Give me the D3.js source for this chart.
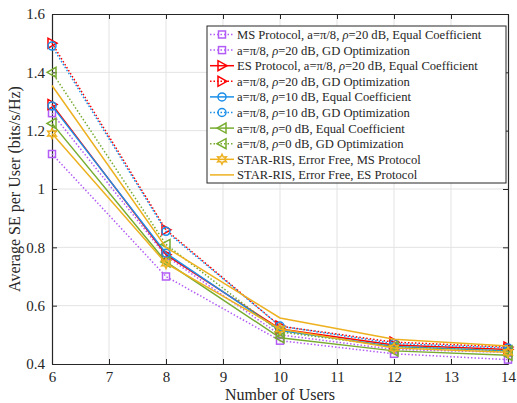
<!DOCTYPE html>
<html>
<head>
<meta charset="utf-8">
<script src="https://cdn.jsdelivr.net/npm/d3@7"></script>
<style>
  body { margin: 0; background: #fff; }
  svg { font-family: "Liberation Serif", "DejaVu Serif", serif; }
</style>
</head>
<body>
<svg id="canvas"></svg>
<script>
let users = [6, 8, 10, 12, 14];

// values
let msEqual   = [1.12, 0.70, 0.48, 0.435, 0.415];
let msGD      = [1.26, 0.77, 0.50, 0.45, 0.44];
let esEqual   = [1.29, 0.775, 0.52, 0.465, 0.45];
let esGD      = [1.50, 0.86, 0.53, 0.475, 0.458];
let r10Equal  = [1.285, 0.78, 0.515, 0.46, 0.445];
let r10GD     = [1.49, 0.855, 0.53, 0.47, 0.455];
let r0Equal   = [1.225, 0.75, 0.49, 0.445, 0.43];
let r0GD      = [1.40, 0.81, 0.51, 0.46, 0.445];
let starMS    = [1.19, 0.745, 0.52, 0.455, 0.44];
let starES    = [1.355, 0.80, 0.558, 0.485, 0.462];

let legendNames = [
  "MS Protocol, a=\u03C0/8, \u03C1=20 dB, Equal Coefficient",
  "a=\u03C0/8, \u03C1=20 dB, GD Optimization",
  "ES Protocol, a=\u03C0/8, \u03C1=20 dB, Equal Coefficient",
  "a=\u03C0/8, \u03C1=20 dB, GD Optimization",
  "a=\u03C0/8, \u03C1=10 dB, Equal Coefficient",
  "a=\u03C0/8, \u03C1=10 dB, GD Optimization",
  "a=\u03C0/8, \u03C1=0 dB, Equal Coefficient",
  "a=\u03C0/8, \u03C1=0 dB, GD Optimization",
  "STAR-RIS, Error Free, MS Protocol",
  "STAR-RIS, Error Free, ES Protocol"
];

let xTicks = [6, 7, 8, 9, 10, 11, 12, 13, 14];
let yTicks = [0.4, 0.6, 0.8, 1, 1.2, 1.4, 1.6];

let purple = "#b25cf5", red = "#ff0000", blue = "#1c8fe8", green = "#77ac30", orange = "#edb120";

let series = [
  {vals: msEqual,  color: purple, dash: "1.5,2", marker: "square"},
  {vals: msGD,     color: purple, dash: "1.5,2", marker: "square"},
  {vals: esEqual,  color: red,    dash: null,   marker: "triRight"},
  {vals: esGD,     color: red,    dash: "1.5,2", marker: "triRight"},
  {vals: r10Equal, color: blue,   dash: null,   marker: "circle"},
  {vals: r10GD,    color: blue,   dash: "1.5,2", marker: "circle"},
  {vals: r0Equal,  color: green,  dash: null,   marker: "triLeft"},
  {vals: r0GD,     color: green,  dash: "1.5,2", marker: "triLeft"},
  {vals: starMS,   color: orange, dash: null,   marker: "star"},
  {vals: starES,   color: orange, dash: null,   marker: null}
];

let width = 517, height = 403;
let mLeft = 52, mRight = 508, mTop = 14, mBottom = 364;

let canvas = d3.select("#canvas").attr("width", width).attr("height", height);

let xScale = d3.scaleLinear().domain([6, 14]).range([mLeft, mRight]);
let yScale = d3.scaleLinear().domain([0.4, 1.6]).range([mBottom, mTop]);

// grid
canvas.append("g").selectAll("line").data(xTicks.slice(1, -1)).enter().append("line")
  .attr("x1", d => xScale(d)).attr("x2", d => xScale(d))
  .attr("y1", mTop).attr("y2", mBottom)
  .attr("stroke", "#e3e3e3").attr("stroke-width", 1);
canvas.append("g").selectAll("line").data(yTicks.slice(1, -1)).enter().append("line")
  .attr("y1", d => yScale(d)).attr("y2", d => yScale(d))
  .attr("x1", mLeft).attr("x2", mRight)
  .attr("stroke", "#e3e3e3").attr("stroke-width", 1);

// axes (ticks inward)
let xAxis = d3.axisBottom(xScale).tickValues(xTicks).tickSizeInner(-5).tickSizeOuter(0).tickPadding(7);
let yAxis = d3.axisLeft(yScale).tickValues(yTicks).tickSizeInner(-5).tickSizeOuter(0).tickPadding(7)
  .tickFormat(d3.format("~g"));
let xTop = d3.axisTop(xScale).tickValues(xTicks).tickSizeInner(-5).tickSizeOuter(0).tickFormat("");
let yRight = d3.axisRight(yScale).tickValues(yTicks).tickSizeInner(-5).tickSizeOuter(0).tickFormat("");

function styleAxis(g) {
  g.select(".domain").attr("stroke", "#262626").attr("stroke-width", 1.2);
  g.selectAll(".tick line").attr("stroke", "#262626");
  g.selectAll(".tick text").attr("fill", "#262626").style("font-size", "15px")
    .style("font-family", "'Liberation Serif', serif");
}
canvas.append("g").attr("transform", "translate(0," + mBottom + ")").call(xAxis).call(styleAxis);
canvas.append("g").attr("transform", "translate(" + mLeft + ",0)").call(yAxis).call(styleAxis);
canvas.append("g").attr("transform", "translate(0," + mTop + ")").call(xTop).call(styleAxis);
canvas.append("g").attr("transform", "translate(" + mRight + ",0)").call(yRight).call(styleAxis);

// labels
canvas.append("text").text("Number of Users")
  .attr("x", (mLeft + mRight) / 2).attr("y", 400)
  .attr("text-anchor", "middle").attr("fill", "#262626").style("font-size", "16px");
canvas.append("text").text("Average SE per User (bits/s/Hz)")
  .attr("transform", "translate(20," + ((mTop + mBottom) / 2) + ") rotate(-90)")
  .attr("text-anchor", "middle").attr("fill", "#262626").style("font-size", "16px");

// markers
function drawMarker(g, type, x, y, color) {
  if (type === "square") {
    g.append("rect").attr("x", x - 3.5).attr("y", y - 3.5).attr("width", 7).attr("height", 7)
      .attr("fill", "none").attr("stroke", color).attr("stroke-width", 1.5);
  } else if (type === "circle") {
    g.append("circle").attr("cx", x).attr("cy", y).attr("r", 4)
      .attr("fill", "none").attr("stroke", color).attr("stroke-width", 1.5);
  } else if (type === "triRight") {
    g.append("path").attr("d", `M${x + 5},${y} L${x - 4},${y - 5} L${x - 4},${y + 5} Z`)
      .attr("fill", "none").attr("stroke", color).attr("stroke-width", 1.5);
  } else if (type === "triLeft") {
    g.append("path").attr("d", `M${x - 5},${y} L${x + 4},${y - 5} L${x + 4},${y + 5} Z`)
      .attr("fill", "none").attr("stroke", color).attr("stroke-width", 1.5);
  } else if (type === "star") {
    let pts = [];
    for (let i = 0; i < 12; i++) {
      let a = Math.PI / 6 * i - Math.PI / 2;
      let r = i % 2 === 0 ? 5 : 2.6;
      pts.push([x + r * Math.cos(a), y + r * Math.sin(a)]);
    }
    g.append("path").attr("d", "M" + pts.map(p => p.join(",")).join("L") + "Z")
      .attr("fill", "none").attr("stroke", color).attr("stroke-width", 1.5);
  }
}

let line = d3.line().x((d, i) => xScale(users[i])).y(d => yScale(d));
let plot = canvas.append("g");
series.forEach(s => {
  let p = plot.append("path").datum(s.vals).attr("d", line)
    .attr("fill", "none").attr("stroke", s.color).attr("stroke-width", 1.5);
  if (s.dash) p.attr("stroke-dasharray", s.dash);
  if (s.marker) s.vals.forEach((v, i) => drawMarker(plot, s.marker, xScale(users[i]), yScale(v), s.color));
});

// legend
let lx = 207, ly = 26, lw = 299, lh = 157;
let legend = canvas.append("g");
legend.append("rect").attr("x", lx).attr("y", ly).attr("width", lw).attr("height", lh)
  .attr("fill", "#fff").attr("stroke", "#262626").attr("stroke-width", 1);
series.forEach((s, i) => {
  let cy = 34.5 + i * 15.6;
  let l = legend.append("line").attr("x1", lx + 3).attr("x2", lx + 27).attr("y1", cy).attr("y2", cy)
    .attr("stroke", s.color).attr("stroke-width", 1.5);
  if (s.dash) l.attr("stroke-dasharray", s.dash);
  if (s.marker) drawMarker(legend, s.marker, lx + 15, cy, s.color);
  let t = legend.append("text").attr("x", lx + 30).attr("y", cy + 4.5)
    .attr("fill", "#262626").style("font-size", "12.6px");
  // rho in italics, as in the reference
  legendNames[i].split(/(\u03C1)/).forEach(part => {
    let sp = t.append("tspan").text(part);
    if (part === "\u03C1") sp.style("font-style", "italic");
  });
});
</script>
</body>
</html>
